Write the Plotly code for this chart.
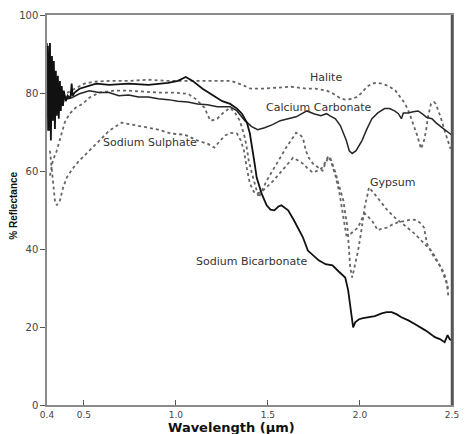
import plotly.graph_objects as go

# ---------------- data (wavelength in µm on the axis scale, % reflectance) -------------
bicarb_w = [0.305, 0.311, 0.316, 0.321, 0.327, 0.332, 0.337, 0.343, 0.348, 0.353, 0.359, 0.364,
            0.370, 0.375, 0.380, 0.386, 0.391, 0.402, 0.412, 0.423, 0.428, 0.434, 0.439, 0.450,
            0.476, 0.530, 0.567, 0.637, 0.744, 0.851, 0.958, 1.011, 1.054, 1.091, 1.145, 1.188,
            1.252, 1.295, 1.332, 1.359, 1.386, 1.402, 1.412, 1.428, 1.439, 1.455, 1.466, 1.493,
            1.514, 1.535, 1.557, 1.573, 1.594, 1.610, 1.642, 1.669, 1.690, 1.717, 1.749, 1.776,
            1.813, 1.851, 1.883, 1.920, 1.936, 1.952, 1.963, 1.974, 1.995, 2.017, 2.049, 2.081,
            2.118, 2.145, 2.172, 2.198, 2.225, 2.263, 2.300, 2.332, 2.353, 2.369, 2.391, 2.407,
            2.434, 2.460, 2.476, 2.487, 2.497]
bicarb_r = [92.1, 70.3, 92.8, 67.8, 89.5, 72.9, 88.2, 70.8, 85.7, 74.2, 84.4, 73.4,
            83.1, 75.4, 81.8, 76.7, 80.6, 77.9, 79.3, 78.8, 79.0, 82.4, 79.3, 80.1,
            81.1, 81.8, 82.4, 82.1, 82.4, 82.1, 82.6, 83.1, 84.1, 83.1, 81.1, 79.8,
            77.9, 77.2, 76.0, 74.7, 72.4, 69.6, 67.0, 61.9, 58.3, 55.5, 54.2, 51.2,
            50.1, 49.9, 50.9, 51.2, 50.4, 49.9, 47.3, 44.8, 43.0, 39.6, 38.1, 37.1,
            36.1, 35.8, 34.3, 32.7, 29.4, 24.3, 19.9, 21.2, 22.0, 22.3, 22.5, 22.8,
            23.5, 23.8, 23.8, 23.3, 22.5, 21.7, 20.7, 19.9, 19.2, 18.7, 17.9, 17.4,
            16.9, 16.1, 17.9, 16.9, 16.6]

calcium_w = [0.300, 0.305, 0.313, 0.321, 0.332, 0.343, 0.353, 0.364, 0.375, 0.386, 0.396, 0.412,
             0.434, 0.476, 0.530, 0.583, 0.637, 0.690, 0.744, 0.797, 0.851, 0.904, 0.958, 1.011,
             1.065, 1.118, 1.172, 1.225, 1.295, 1.332, 1.375, 1.412, 1.444, 1.482, 1.525, 1.567,
             1.610, 1.653, 1.712, 1.749, 1.787, 1.819, 1.835, 1.867, 1.894, 1.910, 1.926, 1.942,
             1.958, 1.979, 1.995, 2.011, 2.038, 2.065, 2.097, 2.134, 2.161, 2.188, 2.209, 2.225,
             2.236, 2.263, 2.289, 2.316, 2.337, 2.364, 2.391, 2.412, 2.439, 2.460, 2.487, 2.497]
calcium_r = [92.8, 70.3, 90.8, 71.6, 87.0, 72.9, 83.1, 75.4, 80.6, 76.7, 79.3, 78.5,
             78.8, 79.8, 80.6, 80.1, 80.1, 79.3, 79.5, 79.0, 79.0, 78.5, 78.3, 77.9,
             77.7, 77.2, 77.0, 76.5, 76.5, 75.4, 72.9, 71.4, 70.6, 71.1, 71.9, 72.9,
             73.4, 73.9, 75.4, 74.7, 74.2, 74.7, 74.2, 73.4, 71.6, 69.6, 67.8, 65.2,
             64.5, 65.2, 66.5, 67.8, 70.8, 73.4, 74.9, 76.0, 76.0, 75.4, 74.7, 73.4,
             74.9, 74.9, 75.2, 75.4, 74.7, 73.7, 73.4, 72.4, 71.4, 70.6, 69.8, 69.3]

halite_w = [0.348, 0.380, 0.412, 0.450, 0.503, 0.557, 0.637, 0.744, 0.851, 0.958, 1.065, 1.172,
            1.300, 1.359, 1.407, 1.466, 1.519, 1.567, 1.626, 1.712, 1.760, 1.819, 1.856, 1.888,
            1.920, 1.958, 1.984, 2.011, 2.038, 2.065, 2.091, 2.118, 2.156, 2.193, 2.220, 2.246,
            2.268, 2.289, 2.311, 2.332, 2.348, 2.359, 2.369, 2.386, 2.402, 2.412, 2.428, 2.439,
            2.460, 2.481, 2.492]
halite_r = [79.3, 79.3, 80.1, 81.1, 82.4, 82.9, 83.1, 83.1, 83.4, 83.1, 83.1, 83.1,
            83.1, 82.1, 81.1, 81.1, 81.3, 81.3, 81.6, 81.1, 81.1, 80.6, 79.8, 78.8,
            78.3, 78.5, 79.0, 80.1, 81.6, 82.4, 82.6, 82.4, 81.8, 80.6, 79.0, 77.2,
            74.9, 72.1, 69.1, 65.7, 67.8, 70.3, 73.7, 77.2, 77.7, 77.2, 75.4, 73.7,
            70.3, 67.0, 65.7]

sulphate_w = [0.316, 0.332, 0.343, 0.353, 0.370, 0.386, 0.407, 0.439, 0.476, 0.530, 0.583, 0.637,
              0.706, 0.771, 0.851, 0.904, 0.974, 1.049, 1.118, 1.172, 1.209, 1.241, 1.268, 1.295,
              1.332, 1.353, 1.370, 1.386, 1.402, 1.423, 1.439, 1.466, 1.493, 1.530, 1.562, 1.599,
              1.637, 1.664, 1.690, 1.717, 1.744, 1.771, 1.797, 1.829, 1.845, 1.867, 1.888, 1.904,
              1.915, 1.926, 1.952, 1.990, 2.011, 2.027, 2.043, 2.065, 2.097, 2.124, 2.150, 2.177,
              2.204, 2.230, 2.257, 2.284, 2.311, 2.332, 2.348, 2.364, 2.386, 2.402, 2.423, 2.439,
              2.455, 2.465, 2.476, 2.481]
sulphate_r = [65.2, 56.3, 52.4, 51.2, 52.4, 55.5, 58.3, 60.6, 62.7, 65.2, 67.8, 70.3,
              72.4, 71.9, 71.1, 70.6, 69.6, 69.3, 67.8, 67.0, 66.0, 67.8, 69.1, 69.8,
              69.6, 67.8, 65.2, 60.6, 56.8, 54.7, 54.2, 54.7, 55.8, 57.5, 59.3, 61.4,
              63.4, 62.7, 61.9, 60.6, 59.6, 60.1, 60.9, 63.9, 62.1, 58.8, 54.5, 49.9,
              46.0, 43.5, 44.0, 45.5, 47.8, 49.1, 48.3, 47.3, 44.8, 45.3, 45.5, 46.3,
              46.8, 47.1, 47.3, 47.6, 47.3, 46.5, 45.5, 41.4, 39.4, 37.9, 36.6, 35.3,
              34.0, 32.7, 30.7, 29.4]

gypsum_w = [0.316, 0.332, 0.353, 0.370, 0.396, 0.423, 0.455, 0.493, 0.530, 0.583, 0.664, 0.744,
            0.824, 0.904, 0.984, 1.065, 1.107, 1.134, 1.156, 1.172, 1.188, 1.209, 1.225, 1.257,
            1.295, 1.321, 1.348, 1.364, 1.375, 1.386, 1.396, 1.412, 1.423, 1.439, 1.450, 1.471,
            1.493, 1.519, 1.546, 1.573, 1.599, 1.626, 1.653, 1.674, 1.690, 1.706, 1.722, 1.744,
            1.771, 1.797, 1.813, 1.829, 1.840, 1.851, 1.867, 1.883, 1.899, 1.910, 1.920, 1.931,
            1.936, 1.942, 1.947, 1.958, 1.974, 1.990, 2.006, 2.017, 2.027, 2.038, 2.049, 2.081,
            2.118, 2.150, 2.188, 2.225, 2.257, 2.295, 2.332, 2.359, 2.386, 2.407, 2.428, 2.450,
            2.471, 2.481]
gypsum_r = [58.8, 62.7, 65.2, 67.8, 72.4, 74.7, 76.2, 77.2, 78.8, 80.1, 80.6, 80.6,
            80.3, 80.1, 80.1, 79.8, 78.5, 77.2, 76.2, 74.4, 72.9, 73.1, 73.4, 74.9,
            76.2, 74.9, 72.9, 70.3, 68.5, 65.7, 62.7, 59.6, 57.5, 55.0, 53.2, 55.5,
            57.5, 59.6, 61.9, 63.9, 66.0, 68.0, 69.8, 69.3, 68.5, 65.2, 63.4, 61.9,
            60.9, 60.1, 62.1, 63.4, 63.2, 61.9, 59.6, 56.8, 54.5, 52.4, 49.1, 46.0,
            43.0, 39.1, 35.3, 32.7, 35.8, 39.6, 44.2, 48.1, 51.2, 53.2, 55.8, 54.0,
            51.7, 49.9, 48.1, 46.8, 45.5, 44.0, 42.2, 40.9, 39.6, 38.1, 36.3, 34.0,
            31.2, 27.6]

x_tick_vals = [0.3, 0.5, 1.0, 1.5, 2.0, 2.5]
x_tick_text = ["0.4", "0.5", "1.0", "1.5", "2.0", "2.5"]
y_tick_vals = [0, 20, 40, 60, 80, 100]

labels = ["Halite", "Calcium Carbonate", "Sodium Sulphate", "Gypsum", "Sodium Bicarbonate"]
label_w = [1.813, 1.776, 0.861, 2.177, 1.412]
label_r = [83.9, 76.2, 67.3, 57.0, 36.8]

# ---------------- figure -------------
fig = go.Figure()

dot_style = dict(color="#666666", width=1.8, dash="3px,3px")
for w, r in [(halite_w, halite_r), (sulphate_w, sulphate_r), (gypsum_w, gypsum_r)]:
    fig.add_trace(go.Scatter(x=w, y=r, mode="lines", line=dot_style, hoverinfo="skip"))

fig.add_trace(go.Scatter(x=calcium_w, y=calcium_r, mode="lines",
                         line=dict(color="#262626", width=1.5), hoverinfo="skip"))
fig.add_trace(go.Scatter(x=bicarb_w, y=bicarb_r, mode="lines",
                         line=dict(color="#111111", width=1.8), hoverinfo="skip"))

for t, xw, yr in zip(labels, label_w, label_r):
    fig.add_annotation(x=xw, y=yr, xref="x", yref="y", text=t, showarrow=False,
                       font=dict(family="DejaVu Sans", size=11, color="#333333"))

fig.add_annotation(x=0.456, y=-0.057, xref="paper", yref="paper", text="<b>Wavelength (μm)</b>",
                   showarrow=False, xanchor="center", yanchor="middle",
                   font=dict(family="DejaVu Sans", size=13, color="#111111"))
fig.add_annotation(x=-0.0825, y=0.51, xref="paper", yref="paper", text="<b>% Reflectance</b>",
                   showarrow=False, textangle=-90, xanchor="center", yanchor="middle",
                   font=dict(family="Liberation Sans, Arial", size=10, color="#111111"))

# darker right frame edge
fig.add_shape(type="line", xref="paper", yref="paper", x0=1, x1=1, y0=0, y1=1,
              line=dict(color="#555555", width=2.5))

fig.update_layout(
    width=468, height=434,
    margin=dict(l=47, r=9, t=13, b=29),
    paper_bgcolor="white", plot_bgcolor="white",
    showlegend=False, hovermode=False,
    xaxis=dict(range=[0.3, 2.5], tickvals=x_tick_vals, ticktext=x_tick_text,
               ticks="inside", ticklen=5, tickcolor="#555555", tickwidth=1,
               showline=True, linecolor="#8a8a8a", linewidth=1.5, mirror=True,
               showgrid=False, zeroline=False,
               tickfont=dict(family="DejaVu Sans", size=9, color="#444444")),
    yaxis=dict(range=[0, 100], tickvals=y_tick_vals,
               ticks="outside", ticklen=5, tickcolor="#555555", tickwidth=1,
               showline=True, linecolor="#8a8a8a", linewidth=1.5, mirror=True,
               showgrid=False, zeroline=False,
               tickfont=dict(family="DejaVu Sans", size=10, color="#444444")),
)

fig.write_html("out.html")
